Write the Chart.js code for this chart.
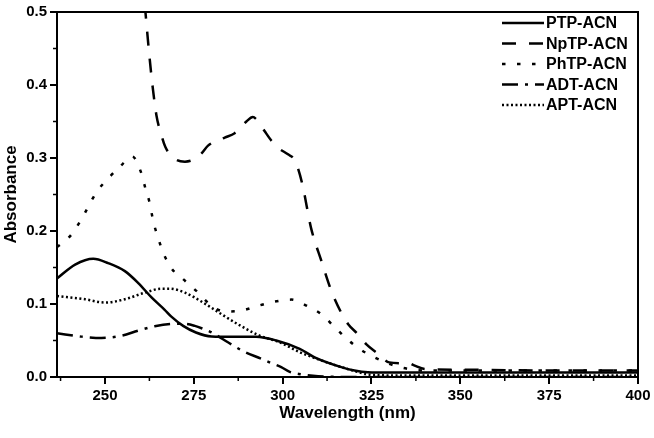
<!DOCTYPE html>
<html><head><meta charset="utf-8">
<script src="https://cdn.jsdelivr.net/npm/chart.js@4.4.1/dist/chart.umd.min.js"></script>
<style>html,body{margin:0;padding:0;background:#fff}</style>
</head><body>
<canvas id="c" width="654" height="438"></canvas>
<script>
// ---- data ----
const seriesNames = ['PTP-ACN', 'NpTP-ACN', 'PhTP-ACN', 'ADT-ACN', 'APT-ACN'];

const ptpX = [236.5, 241.6, 246.7, 250.9, 255.6, 259.3, 263.1, 266.8, 268.6, 272, 275.6, 280, 286, 292.5, 298.2, 304.8, 309, 316.5, 320.2, 324, 330, 350, 375, 400];
const ptpY = [0.135, 0.154, 0.162, 0.156, 0.145, 0.129, 0.109, 0.092, 0.083, 0.070, 0.061, 0.0555, 0.055, 0.055, 0.050, 0.0386, 0.027, 0.0136, 0.009, 0.0065, 0.006, 0.006, 0.006, 0.006];

const nptpX = [261.2, 262.6, 263.5, 264.5, 265.9, 267, 269.6, 272.5, 275, 277.1, 279, 283.7, 286.5, 289.8, 291.6, 292.8, 294.9, 296.8, 299, 301.5, 303.4, 305.5, 308, 310.9, 313.7, 316.5, 318.5, 321.1, 323.5, 326.8, 330, 333, 335, 337, 340, 350, 375, 400];
const nptpY = [0.51, 0.435, 0.394, 0.358, 0.331, 0.315, 0.299, 0.295, 0.298, 0.306, 0.317, 0.328, 0.334, 0.350, 0.356, 0.352, 0.337, 0.324, 0.313, 0.305, 0.297, 0.265, 0.204, 0.159, 0.118, 0.088, 0.072, 0.059, 0.045, 0.032, 0.020, 0.019, 0.020, 0.016, 0.011, 0.010, 0.009, 0.009];

const phtpX = [236.5, 240.2, 243, 247.6, 250.9, 254.2, 257.7, 260.1, 261.4, 262.6, 263.6, 265, 266.4, 268.7, 272, 275.7, 279.5, 283.7, 288, 293, 297.5, 302.4, 307, 310.9, 314.3, 317.9, 321.6, 325.8, 330, 335.5, 340, 350, 375, 400];
const phtpY = [0.178, 0.193, 0.213, 0.253, 0.272, 0.288, 0.302, 0.281, 0.258, 0.238, 0.213, 0.190, 0.170, 0.149, 0.134, 0.118, 0.0997, 0.0897, 0.0906, 0.0974, 0.103, 0.106, 0.097, 0.086, 0.070, 0.053, 0.0386, 0.027, 0.018, 0.011, 0.009, 0.009, 0.009, 0.009];

const adtX = [236.5, 243.4, 249, 254.7, 259.3, 264, 269, 272, 275.3, 277.6, 280, 284.6, 289, 294, 296.3, 299.6, 302, 305.2, 310, 320, 350, 400];
const adtY = [0.060, 0.0553, 0.0535, 0.0567, 0.0635, 0.0695, 0.0728, 0.073, 0.070, 0.066, 0.061, 0.0476, 0.035, 0.025, 0.020, 0.0136, 0.007, 0.0037, 0.001, 0.0, 0.0, 0.0];

const aptX = [236.5, 244.4, 250, 255.6, 261.2, 265.9, 268.2, 272.5, 277.6, 282.8, 287.5, 293.5, 299.1, 304.8, 307.1, 313.7, 319.7, 325, 335, 400];
const aptY = [0.111, 0.1065, 0.102, 0.1065, 0.1155, 0.121, 0.121, 0.1155, 0.102, 0.086, 0.072, 0.0567, 0.0476, 0.034, 0.0295, 0.018, 0.009, 0.003, 0.002, 0.002];

const xTicks = [250, 275, 300, 325, 350, 375, 400];
const xMinor = [237.5, 262.5, 287.5, 312.5, 337.5, 362.5, 387.5];
const yTicks = [0, 0.1, 0.2, 0.3, 0.4, 0.5];
const yMinor = [0.05, 0.15, 0.25, 0.35, 0.45];

// ---- build ----
const pts = (xs, ys) => xs.map((x, i) => ({x: x, y: ys[i]}));
const styles = [
  {dash: []},
  {dash: [14, 13]},
  {dash: [3.5, 11.5]},
  {dash: [16, 7, 3, 7]},
  {dash: [2, 2.5]}
];
const seriesData = [pts(ptpX, ptpY), pts(nptpX, nptpY), pts(phtpX, phtpY), pts(adtX, adtY), pts(aptX, aptY)];

const datasets = seriesNames.map((n, i) => ({
  label: n,
  data: seriesData[i],
  borderColor: '#000',
  backgroundColor: '#000',
  borderWidth: 2.5,
  borderDash: styles[i].dash,
  pointRadius: 0,
  fill: false,
  cubicInterpolationMode: 'monotone',
  tension: 0.4
}));

const FONT = 'Liberation Sans, Arial, sans-serif';

const extras = {
  id: 'extras',
  afterDraw(chart) {
    const ctx = chart.ctx, a = chart.chartArea;
    const xs = chart.scales.x, ys = chart.scales.y;
    ctx.save();
    ctx.strokeStyle = '#000';
    ctx.lineWidth = 2;
    ctx.setLineDash([]);
    ctx.beginPath();
    ctx.moveTo(a.left, a.top); ctx.lineTo(a.right, a.top);
    ctx.moveTo(a.right, a.top - 1); ctx.lineTo(a.right, a.bottom);
    ctx.stroke();
    ctx.lineWidth = 1.5;
    ctx.beginPath();
    xMinor.forEach(v => {
      const p = xs.getPixelForValue(v);
      ctx.moveTo(p, a.bottom); ctx.lineTo(p, a.bottom + 4);
    });
    yMinor.forEach(v => {
      const p = ys.getPixelForValue(v);
      ctx.moveTo(a.left, p); ctx.lineTo(a.left - 4, p);
    });
    ctx.stroke();
    ctx.font = 'bold 16px ' + FONT;
    ctx.fillStyle = '#000';
    ctx.textBaseline = 'middle';
    ctx.textAlign = 'left';
    chart.data.datasets.forEach((d, i) => {
      const y = 23 + i * 20.5;
      ctx.lineWidth = 2.5;
      ctx.setLineDash(d.borderDash);
      ctx.beginPath();
      ctx.moveTo(502, y); ctx.lineTo(544, y);
      ctx.stroke();
      ctx.fillText(d.label, 546, y + 1);
    });
    ctx.restore();
  }
};

new Chart(document.getElementById('c'), {
  type: 'line',
  data: {datasets: datasets},
  options: {
    responsive: false,
    devicePixelRatio: 1,
    animation: false,
    layout: {padding: {top: 8, right: 16, left: 0, bottom: 0}},
    plugins: {legend: {display: false}, tooltip: {enabled: false}},
    scales: {
      x: {
        type: 'linear', min: 236.5, max: 400,
        afterBuildTicks: s => { s.ticks = xTicks.map(v => ({value: v})); },
        afterFit: s => { s.height = 61; },
        ticks: {color: '#000', font: {family: FONT, size: 15, weight: 'bold'}, padding: 3, maxRotation: 0},
        grid: {drawOnChartArea: false, drawTicks: true, tickLength: 7, color: '#000', lineWidth: 2},
        border: {display: true, color: '#000', width: 2},
        title: {display: true, text: 'Wavelength (nm)', color: '#000', font: {family: FONT, size: 17, weight: 'bold'}, padding: {top: 0, bottom: 14}}
      },
      y: {
        type: 'linear', min: 0, max: 0.5,
        afterBuildTicks: s => { s.ticks = yTicks.map(v => ({value: v})); },
        afterFit: s => { s.width = 57; },
        ticks: {color: '#000', font: {family: FONT, size: 15, weight: 'bold'}, padding: 3, callback: v => v.toFixed(1)},
        grid: {drawOnChartArea: false, drawTicks: true, tickLength: 7, color: '#000', lineWidth: 2},
        border: {display: true, color: '#000', width: 2},
        title: {display: true, text: 'Absorbance', color: '#000', font: {family: FONT, size: 17, weight: 'bold'}, padding: {top: 1, bottom: 0}}
      }
    }
  },
  plugins: [extras]
});
</script>
</body></html>
